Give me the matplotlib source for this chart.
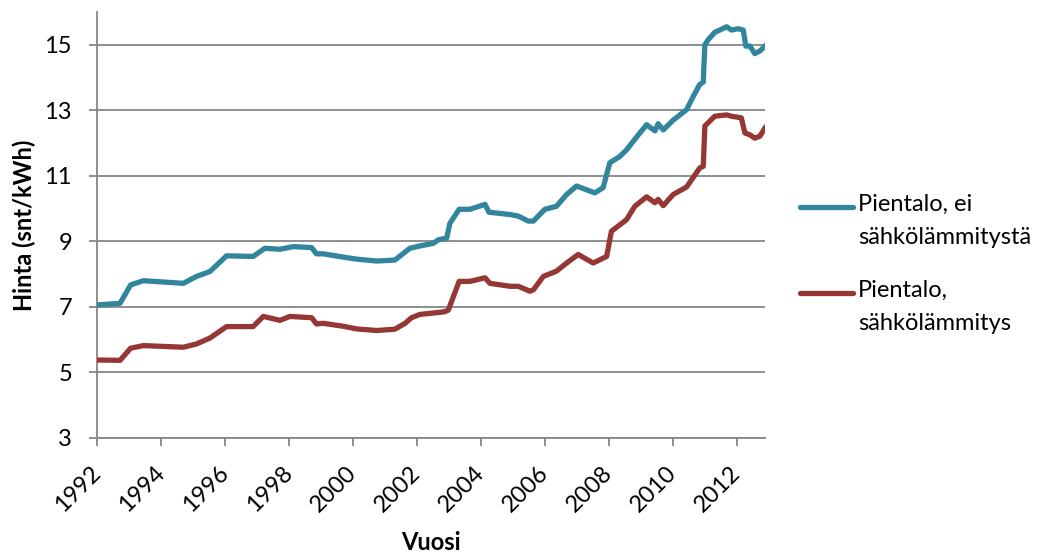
import matplotlib
matplotlib.use("Agg")
import matplotlib.pyplot as plt
from matplotlib.lines import Line2D

plt.rcParams['font.family'] = ['Lato', 'DejaVu Sans']

# values (year, snt/kWh)
ei_years = [1992.0, 1992.72, 1993.05, 1993.45, 1994.70, 1995.11, 1995.53, 1996.05,
            1996.88, 1997.25, 1997.72, 1998.14, 1998.71, 1998.86, 1999.07, 1999.70,
            2000.11, 2000.74, 2001.31, 2001.52, 2001.78, 2002.09, 2002.51, 2002.67,
            2002.93, 2003.03, 2003.32, 2003.66, 2004.13, 2004.25, 2004.91, 2005.17,
            2005.48, 2005.64, 2006.00, 2006.36, 2006.68, 2006.99, 2007.56, 2007.82,
            2008.03, 2008.34, 2008.55, 2008.92, 2009.18, 2009.44, 2009.54, 2009.70,
            2010.01, 2010.43, 2010.64, 2010.84, 2010.95, 2011.00, 2011.10, 2011.31,
            2011.47, 2011.68, 2011.83, 2012.04, 2012.20, 2012.28, 2012.41, 2012.56,
            2012.72, 2012.88]
ei_values = [7.06, 7.11, 7.67, 7.80, 7.72, 7.93, 8.08, 8.56,
             8.54, 8.79, 8.76, 8.84, 8.81, 8.62, 8.62, 8.52,
             8.46, 8.40, 8.43, 8.59, 8.79, 8.86, 8.94, 9.05,
             9.10, 9.55, 9.98, 9.98, 10.13, 9.89, 9.82, 9.77,
             9.62, 9.62, 9.98, 10.07, 10.43, 10.69, 10.48, 10.64,
             11.40, 11.59, 11.79, 12.25, 12.56, 12.37, 12.59, 12.40,
             12.70, 13.02, 13.43, 13.79, 13.86, 15.00, 15.15, 15.38,
             15.45, 15.55, 15.45, 15.49, 15.45, 14.96, 14.96, 14.73,
             14.81, 14.96]

sahko_years = [1992.0, 1992.72, 1993.05, 1993.45, 1994.70, 1995.11, 1995.53, 1996.05,
               1996.88, 1997.20, 1997.72, 1998.03, 1998.71, 1998.86, 1999.07, 1999.70,
               2000.11, 2000.74, 2001.31, 2001.63, 2001.83, 2002.09, 2002.85, 2002.98,
               2003.32, 2003.66, 2004.13, 2004.28, 2004.91, 2005.17, 2005.53, 2005.64,
               2005.95, 2006.36, 2006.68, 2007.04, 2007.51, 2007.93, 2008.08, 2008.55,
               2008.81, 2009.18, 2009.44, 2009.54, 2009.70, 2010.01, 2010.43, 2010.84,
               2010.95, 2011.00, 2011.31, 2011.68, 2011.83, 2012.14, 2012.25, 2012.41,
               2012.56, 2012.72, 2012.88]
sahko_values = [5.38, 5.37, 5.74, 5.82, 5.77, 5.87, 6.05, 6.40,
                6.40, 6.71, 6.59, 6.71, 6.67, 6.48, 6.50, 6.41,
                6.33, 6.28, 6.32, 6.50, 6.67, 6.77, 6.85, 6.90,
                7.78, 7.78, 7.89, 7.72, 7.63, 7.63, 7.48, 7.52,
                7.93, 8.09, 8.34, 8.60, 8.34, 8.54, 9.31, 9.66,
                10.07, 10.36, 10.18, 10.28, 10.09, 10.43, 10.66, 11.24,
                11.29, 12.52, 12.82, 12.86, 12.82, 12.77, 12.31, 12.25,
                12.15, 12.21, 12.46]

labels = ["Pientalo, ei\nsähkölämmitystä", "Pientalo,\nsähkölämmitys"]
colors = ["#31859C", "#953735"]
y_ticks = [3, 5, 7, 9, 11, 13, 15]
x_ticks = list(range(1992, 2013, 2))

fs = 17

fig = plt.figure(figsize=(10.52, 5.53), dpi=100)
ax = fig.add_axes([97 / 1052, 1 - 438 / 553, (765 - 97) / 1052, (438 - 12) / 553])

ax.plot(ei_years, ei_values, color=colors[0], lw=3.8, solid_joinstyle='round', zorder=3)
ax.plot(sahko_years, sahko_values, color=colors[1], lw=3.8, solid_joinstyle='round', zorder=3)

ax.set_xlim(1992, 2012.88)
ax.set_ylim(3, 16)
ax.set_yticks(y_ticks)
ax.set_xticks(x_ticks)
ax.set_xticklabels([str(x) for x in x_ticks], rotation=45, ha='right', va='center',
                   rotation_mode='anchor')
ax.grid(axis='y', color='#868686', lw=1.3)
ax.set_axisbelow(True)
for s in ['top', 'right']:
    ax.spines[s].set_visible(False)
for s in ['left', 'bottom']:
    ax.spines[s].set_color('#868686')
    ax.spines[s].set_linewidth(1.3)
ax.tick_params(axis='both', direction='out', length=6, width=1.3, color='#868686',
               labelsize=fs, labelcolor='black')
ax.tick_params(axis='y', pad=12)
ax.tick_params(axis='x', pad=17)

ax.set_ylabel("Hinta (snt/kWh)", fontsize=fs, fontweight='bold', labelpad=6)
ax.set_xlabel("Vuosi", fontsize=fs, fontweight='bold', va='center')
ax.xaxis.set_label_coords(0.5, -(543 - 438) / 426)

# legend drawn by hand so the line sits on the first text row
for i, (lab, col) in enumerate(zip(labels, colors)):
    yl = 1 - (207 + i * 86) / 553
    fig.add_artist(Line2D([800 / 1052, 853 / 1052], [yl, yl], color=col, lw=3.8,
                          solid_capstyle='round', transform=fig.transFigure))
    fig.text(858 / 1052, yl + 0.024, lab, fontsize=fs, va='top', ha='left',
             linespacing=1.7)

fig.savefig("out.png", dpi=100)
